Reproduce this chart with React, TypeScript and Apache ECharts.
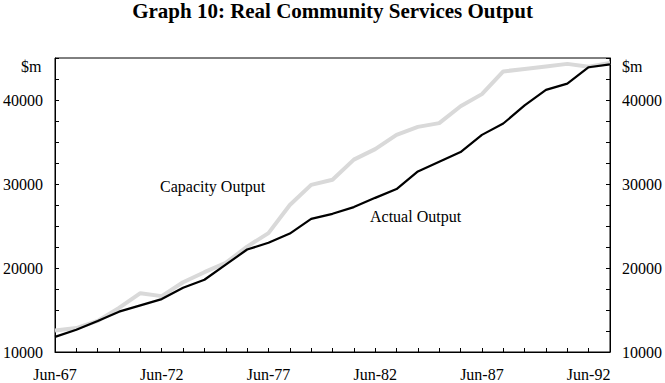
import React, { useEffect, useRef } from "react";
import * as echarts from "echarts";

const years: string[] = [];
for (let y = 67; y <= 93; y++) years.push("Jun-" + y);

const actualOutput = [
  11800, 12650, 13700, 14800, 15550, 16300, 17650, 18600, 20400, 22200,
  23000, 24100, 25850, 26450, 27250, 28350, 29400, 31500, 32650, 33800,
  35850, 37200, 39350, 41200, 41950, 43900, 44250,
];

const capacityOutput = [
  12550, 12850, 13700, 15250, 17000, 16650, 18300, 19500, 20600, 22550,
  24150, 27500, 29900, 30500, 32900, 34150, 35850, 36800, 37250, 39250,
  40700, 43400, 43700, 44000, 44300, 43950, 44400,
];

const yTickLabels = [10000, 20000, 30000, 40000];

const FONT = "Liberation Serif, Times New Roman, serif";

export default function App() {
  const ref = useRef<HTMLDivElement>(null);
  useEffect(() => {
    if (!ref.current) return;
    const chart = echarts.init(ref.current, undefined, { renderer: "svg" });
    const yAxisCommon = {
      type: "value" as const,
      min: 10000,
      max: 45000,
      interval: 2500,
      splitLine: { show: false },
      axisLine: { show: true, lineStyle: { color: "#000", width: 1 } },
      axisTick: { show: true, inside: true, length: 4, lineStyle: { color: "#000" } },
      axisLabel: {
        color: "#000",
        fontFamily: FONT,
        fontSize: 16,
        margin: 12,
        formatter: (v: number) => (yTickLabels.includes(v) ? String(v) : ""),
      },
    };
    chart.setOption({
      animation: false,
      grid: {
        left: 54,
        right: 55,
        top: 58,
        bottom: 31,
        show: true,
        borderColor: "#000",
        borderWidth: 1,
      },
      xAxis: {
        type: "category",
        data: years,
        boundaryGap: false,
        axisLine: { show: true, lineStyle: { color: "#000" } },
        axisTick: { show: true, inside: true, length: 4, interval: 0, lineStyle: { color: "#000" } },
        axisLabel: {
          color: "#000",
          fontFamily: FONT,
          fontSize: 16,
          margin: 14,
          interval: 4,
        },
      },
      yAxis: [
        { ...yAxisCommon, position: "left" },
        { ...yAxisCommon, position: "right" },
      ],
      series: [
        {
          name: "Capacity Output",
          type: "line",
          data: capacityOutput,
          showSymbol: false,
          lineStyle: { color: "#d9d9d9", width: 4 },
          z: 2,
        },
        {
          name: "Actual Output",
          type: "line",
          data: actualOutput,
          showSymbol: false,
          lineStyle: { color: "#000", width: 2.2 },
          z: 3,
        },
      ],
      graphic: [
        {
          type: "text",
          left: "center",
          top: 0,
          style: {
            text: "Graph 10: Real Community Services Output",
            font: `bold 21px ${FONT}`,
            fill: "#000",
          },
        },
        {
          type: "text",
          left: 21,
          top: 58,
          style: { text: "$m", font: `16px ${FONT}`, fill: "#000" },
        },
        {
          type: "text",
          left: 622,
          top: 58,
          style: { text: "$m", font: `16px ${FONT}`, fill: "#000" },
        },
        {
          type: "text",
          left: 160,
          top: 178,
          style: { text: "Capacity Output", font: `16px ${FONT}`, fill: "#000" },
        },
        {
          type: "text",
          left: 370,
          top: 208,
          style: { text: "Actual Output", font: `16px ${FONT}`, fill: "#000" },
        },
      ],
    });
    return () => chart.dispose();
  }, []);
  return (
    <div
      ref={ref}
      style={{ position: "fixed", left: 0, top: 0, width: 665, height: 383, background: "#fff" }}
    />
  );
}
